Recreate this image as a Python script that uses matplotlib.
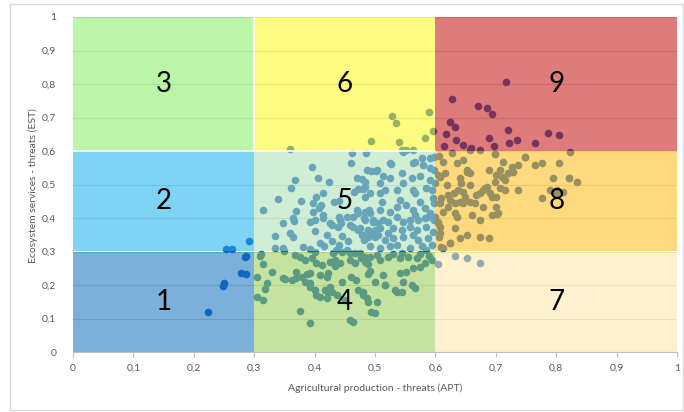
import matplotlib
matplotlib.use("Agg")
import matplotlib.pyplot as plt
from matplotlib.patches import Rectangle
import numpy as np

# ---------------- data ----------------
region_labels = ['1', '2', '3', '4', '5', '6', '7', '8', '9']
region_x0 = [0.0, 0.0, 0.0, 0.3, 0.3, 0.3, 0.6, 0.6, 0.6]
region_x1 = [0.3, 0.3, 0.3, 0.6, 0.6, 0.6, 1.0, 1.0, 1.0]
region_y0 = [0.0, 0.3, 0.6, 0.0, 0.3, 0.6, 0.0, 0.3, 0.6]
region_y1 = [0.3, 0.6, 1.0, 0.3, 0.6, 1.0, 0.3, 0.6, 1.0]
label_x = [0.15, 0.15, 0.15, 0.45, 0.45, 0.45, 0.8, 0.8, 0.8]
label_y = [0.15, 0.45, 0.8, 0.15, 0.45, 0.8, 0.15, 0.45, 0.8]

# observed points (APT, EST), grouped by area of the plot
pts_low = [(0.224, 0.118), (0.248, 0.197), (0.250, 0.205), (0.254, 0.307), (0.264, 0.307),
           (0.292, 0.330), (0.284, 0.283), (0.286, 0.287), (0.278, 0.237), (0.286, 0.233)]

pts_top = [(0.360, 0.607), (0.493, 0.631), (0.528, 0.704), (0.535, 0.684), (0.589, 0.717),
           (0.596, 0.661), (0.583, 0.640), (0.540, 0.628), (0.544, 0.602), (0.552, 0.604),
           (0.563, 0.602)]

pts_red = [(0.717, 0.807), (0.627, 0.754), (0.670, 0.734), (0.685, 0.727), (0.693, 0.710),
           (0.624, 0.687), (0.632, 0.672), (0.617, 0.650), (0.721, 0.664), (0.634, 0.633),
           (0.614, 0.616), (0.646, 0.618), (0.659, 0.610), (0.688, 0.638), (0.697, 0.616),
           (0.722, 0.623), (0.735, 0.633), (0.765, 0.625), (0.787, 0.653), (0.805, 0.648),
           (0.674, 0.603)]

pts_orange = [(0.606, 0.585), (0.613, 0.568), (0.627, 0.593), (0.657, 0.603), (0.699, 0.591),
              (0.712, 0.568), (0.726, 0.553), (0.721, 0.533), (0.707, 0.543), (0.701, 0.528),
              (0.710, 0.523), (0.715, 0.513), (0.729, 0.538), (0.737, 0.558), (0.748, 0.583),
              (0.765, 0.558), (0.776, 0.563), (0.805, 0.563), (0.823, 0.598), (0.795, 0.518),
              (0.822, 0.518), (0.834, 0.508), (0.737, 0.484), (0.715, 0.484), (0.707, 0.489),
              (0.699, 0.508), (0.688, 0.543), (0.685, 0.494), (0.679, 0.484), (0.674, 0.474),
              (0.668, 0.469), (0.657, 0.499), (0.652, 0.538), (0.657, 0.533), (0.641, 0.518),
              (0.643, 0.503), (0.635, 0.563), (0.616, 0.533), (0.608, 0.523), (0.619, 0.499),
              (0.630, 0.474), (0.638, 0.484), (0.646, 0.479), (0.649, 0.464), (0.641, 0.449),
              (0.646, 0.444), (0.657, 0.449), (0.666, 0.444), (0.682, 0.489), (0.690, 0.474),
              (0.693, 0.464), (0.632, 0.444), (0.624, 0.454), (0.610, 0.459), (0.608, 0.444),
              (0.613, 0.419), (0.632, 0.414), (0.635, 0.404), (0.679, 0.434), (0.674, 0.394),
              (0.704, 0.414), (0.776, 0.459), (0.801, 0.484), (0.812, 0.479), (0.605, 0.389),
              (0.608, 0.374), (0.632, 0.369), (0.641, 0.339), (0.652, 0.349), (0.674, 0.342),
              (0.688, 0.339), (0.624, 0.324), (0.610, 0.314), (0.613, 0.309), (0.606, 0.344),
              (0.699, 0.590), (0.748, 0.581), (0.789, 0.483), (0.800, 0.468), (0.702, 0.412),
              (0.821, 0.518), (0.608, 0.354), (0.605, 0.384), (0.624, 0.325), (0.646, 0.573),
              (0.652, 0.543), (0.605, 0.528), (0.621, 0.468), (0.701, 0.463), (0.621, 0.434),
              (0.660, 0.409), (0.693, 0.409), (0.701, 0.434)]

pts_cream = [(0.632, 0.287), (0.652, 0.280), (0.674, 0.267), (0.604, 0.263)]

pts_mid = [(0.462, 0.593), (0.485, 0.593), (0.461, 0.563), (0.396, 0.551), (0.487, 0.543),
           (0.493, 0.541), (0.502, 0.541), (0.406, 0.519), (0.368, 0.513), (0.424, 0.508),
           (0.470, 0.520), (0.478, 0.515), (0.484, 0.506), (0.480, 0.488), (0.472, 0.486),
           (0.466, 0.478), (0.361, 0.490), (0.339, 0.456), (0.378, 0.452), (0.403, 0.464),
           (0.414, 0.474), (0.398, 0.444), (0.410, 0.438), (0.408, 0.429), (0.432, 0.448),
           (0.441, 0.452), (0.315, 0.424), (0.370, 0.422), (0.398, 0.419), (0.414, 0.409),
           (0.470, 0.424), (0.483, 0.419), (0.490, 0.424), (0.364, 0.400), (0.414, 0.400),
           (0.440, 0.404), (0.547, 0.598), (0.527, 0.561), (0.563, 0.565), (0.577, 0.578),
           (0.591, 0.578), (0.580, 0.558), (0.514, 0.524), (0.525, 0.519), (0.544, 0.533),
           (0.561, 0.519), (0.574, 0.524), (0.591, 0.514), (0.599, 0.504), (0.483, 0.494),
           (0.492, 0.474), (0.508, 0.504), (0.516, 0.484), (0.536, 0.484), (0.547, 0.504),
           (0.563, 0.484), (0.585, 0.489), (0.594, 0.484), (0.483, 0.464), (0.508, 0.474),
           (0.511, 0.449), (0.541, 0.454), (0.566, 0.474), (0.574, 0.449), (0.596, 0.459),
           (0.492, 0.414), (0.508, 0.424), (0.525, 0.419), (0.536, 0.434), (0.552, 0.439),
           (0.563, 0.424), (0.583, 0.429), (0.591, 0.414), (0.481, 0.399), (0.497, 0.394),
           (0.514, 0.394), (0.522, 0.389), (0.536, 0.404), (0.547, 0.389), (0.558, 0.394),
           (0.566, 0.409), (0.572, 0.394), (0.583, 0.399), (0.588, 0.404), (0.475, 0.369),
           (0.489, 0.364), (0.508, 0.369), (0.522, 0.354), (0.530, 0.369), (0.544, 0.364),
           (0.558, 0.374), (0.569, 0.364), (0.585, 0.374), (0.481, 0.339), (0.500, 0.344),
           (0.516, 0.334), (0.530, 0.339), (0.547, 0.344), (0.563, 0.349), (0.572, 0.334),
           (0.588, 0.339), (0.596, 0.359), (0.492, 0.315), (0.508, 0.310), (0.525, 0.315),
           (0.536, 0.320), (0.558, 0.310), (0.577, 0.315), (0.585, 0.305), (0.594, 0.320),
           (0.348, 0.386), (0.366, 0.392), (0.392, 0.389), (0.401, 0.394), (0.428, 0.379),
           (0.438, 0.374), (0.443, 0.386), (0.360, 0.354), (0.365, 0.344), (0.400, 0.362),
           (0.428, 0.332), (0.409, 0.324), (0.416, 0.316), (0.334, 0.310), (0.348, 0.310),
           (0.349, 0.302), (0.381, 0.314), (0.392, 0.306), (0.334, 0.345), (0.425, 0.384),
           (0.442, 0.394), (0.453, 0.404), (0.464, 0.404), (0.472, 0.414), (0.483, 0.394),
           (0.497, 0.389), (0.505, 0.384), (0.459, 0.379), (0.464, 0.374), (0.472, 0.364),
           (0.478, 0.349), (0.485, 0.352), (0.481, 0.334), (0.489, 0.344), (0.493, 0.359),
           (0.500, 0.364), (0.505, 0.349), (0.436, 0.305), (0.445, 0.300), (0.453, 0.305),
           (0.525, 0.563), (0.503, 0.543), (0.591, 0.548), (0.566, 0.568), (0.598, 0.583),
           (0.597, 0.543), (0.598, 0.444), (0.599, 0.404), (0.597, 0.394), (0.455, 0.330),
           (0.445, 0.345), (0.420, 0.350), (0.440, 0.320)]

pts_bottom = [(0.459, 0.295), (0.467, 0.295), (0.475, 0.297), (0.483, 0.285), (0.492, 0.285),
              (0.503, 0.290), (0.400, 0.299), (0.430, 0.295), (0.310, 0.287), (0.368, 0.290),
              (0.376, 0.284), (0.384, 0.275), (0.395, 0.280), (0.403, 0.265), (0.412, 0.260),
              (0.425, 0.270), (0.434, 0.275), (0.442, 0.265), (0.434, 0.258), (0.459, 0.275),
              (0.467, 0.265), (0.476, 0.280), (0.484, 0.270), (0.489, 0.262), (0.492, 0.242),
              (0.489, 0.232), (0.315, 0.263), (0.329, 0.240), (0.370, 0.240), (0.351, 0.217),
              (0.362, 0.215), (0.370, 0.220), (0.379, 0.225), (0.387, 0.233), (0.392, 0.235),
              (0.384, 0.210), (0.392, 0.205), (0.409, 0.230), (0.420, 0.225), (0.423, 0.235),
              (0.425, 0.195), (0.417, 0.185), (0.423, 0.180), (0.428, 0.180), (0.420, 0.160),
              (0.321, 0.205), (0.304, 0.165), (0.315, 0.155), (0.392, 0.195), (0.401, 0.185),
              (0.403, 0.170), (0.409, 0.165), (0.437, 0.170), (0.461, 0.225), (0.469, 0.215),
              (0.472, 0.185), (0.480, 0.180), (0.480, 0.170), (0.486, 0.160), (0.489, 0.150),
              (0.376, 0.123), (0.392, 0.086), (0.459, 0.096), (0.464, 0.091), (0.494, 0.120),
              (0.500, 0.115), (0.304, 0.225), (0.312, 0.293), (0.318, 0.187), (0.348, 0.220),
              (0.508, 0.275), (0.522, 0.285), (0.541, 0.280), (0.555, 0.285), (0.569, 0.280),
              (0.583, 0.265), (0.594, 0.275), (0.514, 0.230), (0.541, 0.235), (0.552, 0.240),
              (0.563, 0.250), (0.574, 0.255), (0.500, 0.210), (0.517, 0.200), (0.547, 0.210),
              (0.561, 0.200), (0.566, 0.190), (0.536, 0.180), (0.544, 0.180), (0.503, 0.150),
              (0.530, 0.292), (0.545, 0.296), (0.575, 0.292), (0.590, 0.287), (0.516, 0.200),
              (0.533, 0.185), (0.450, 0.155), (0.445, 0.210)]

xticks = [0, 0.1, 0.2, 0.3, 0.4, 0.5, 0.6, 0.7, 0.8, 0.9, 1.0]
tick_labels = ['0', '0,1', '0,2', '0,3', '0,4', '0,5', '0,6', '0,7', '0,8', '0,9', '1']
xlabel = 'Agricultural production - threats (APT)'
ylabel = 'Ecosystem services - threats (EST)'

# ---------------- style ----------------
# visible colour of each area on white; the areas are translucent overlays above the points
region_seen = ['#7ab0da', '#7fd3f5', '#baf5a8', '#c5e3a0', '#d0eed6',
               '#fffb80', '#fff1cf', '#ffd97d', '#de7b7b']
ALPHA = 0.55
point_rgb = np.array([25, 95, 190]) / 255.0


def overlay_colour(hexcol):
    c = np.array(matplotlib.colors.to_rgb(hexcol))
    o = (c - (1 - ALPHA)) / ALPHA
    return tuple(np.clip(o, 0, 1))


plt.rcParams['font.family'] = ['Lato', 'DejaVu Sans']
fig = plt.figure(figsize=(6.84, 4.12), dpi=100)
fig.patch.set_facecolor('white')
ax = fig.add_axes([73 / 684, 1 - 352 / 412, 604 / 684, 335 / 412])

all_pts = pts_low + pts_top + pts_red + pts_orange + pts_cream + pts_mid + pts_bottom
px = [p[0] for p in all_pts]
py = [p[1] for p in all_pts]
ax.scatter(px, py, s=30, color=point_rgb, linewidths=0, zorder=1)

for i in range(9):
    ax.add_patch(Rectangle((region_x0[i], region_y0[i]),
                           region_x1[i] - region_x0[i], region_y1[i] - region_y0[i],
                           facecolor=overlay_colour(region_seen[i]), alpha=ALPHA,
                           edgecolor='none', zorder=2))
    ax.text(label_x[i], label_y[i], region_labels[i], fontsize=20, color='black',
            ha='center', va='center', zorder=4)

# white separators seen in the reference
ax.plot([0, 0.6], [0.6, 0.6], color='white', lw=1.2, zorder=3)
ax.plot([0.3, 0.3], [0.6, 1.0], color='white', lw=1.2, zorder=3)

ax.set_xlim(0, 1)
ax.set_ylim(0, 1)
ax.set_xticks(xticks)
ax.set_xticklabels(tick_labels)
ax.set_yticks(xticks)
ax.set_yticklabels(tick_labels)
ax.set_axisbelow(True)
ax.yaxis.grid(True, color='#d9d9d9', lw=0.8)
ax.tick_params(axis='x', direction='out', length=3.5, width=0.8, color='#bfbfbf',
               labelsize=7.5, labelcolor='#595959', pad=5)
ax.tick_params(axis='y', length=0, labelsize=7.5, labelcolor='#595959', pad=12)
for s in ['top', 'right', 'left']:
    ax.spines[s].set_visible(False)
ax.spines['bottom'].set_color('#bfbfbf')
ax.spines['bottom'].set_zorder(3)

fig.text(375 / 684, 1 - 388 / 412, xlabel, fontsize=7.5, color='#595959',
         ha='center', va='center')
fig.text(33 / 684, 1 - 186 / 412, ylabel, fontsize=7.5, color='#595959',
         ha='center', va='center', rotation=90)

fig.add_artist(Rectangle((10 / 684, 1 - 410 / 412), 673 / 684, 406 / 412,
                         transform=fig.transFigure, fill=False,
                         edgecolor='#d9d9d9', lw=1))

fig.savefig('out.png', dpi=100)
